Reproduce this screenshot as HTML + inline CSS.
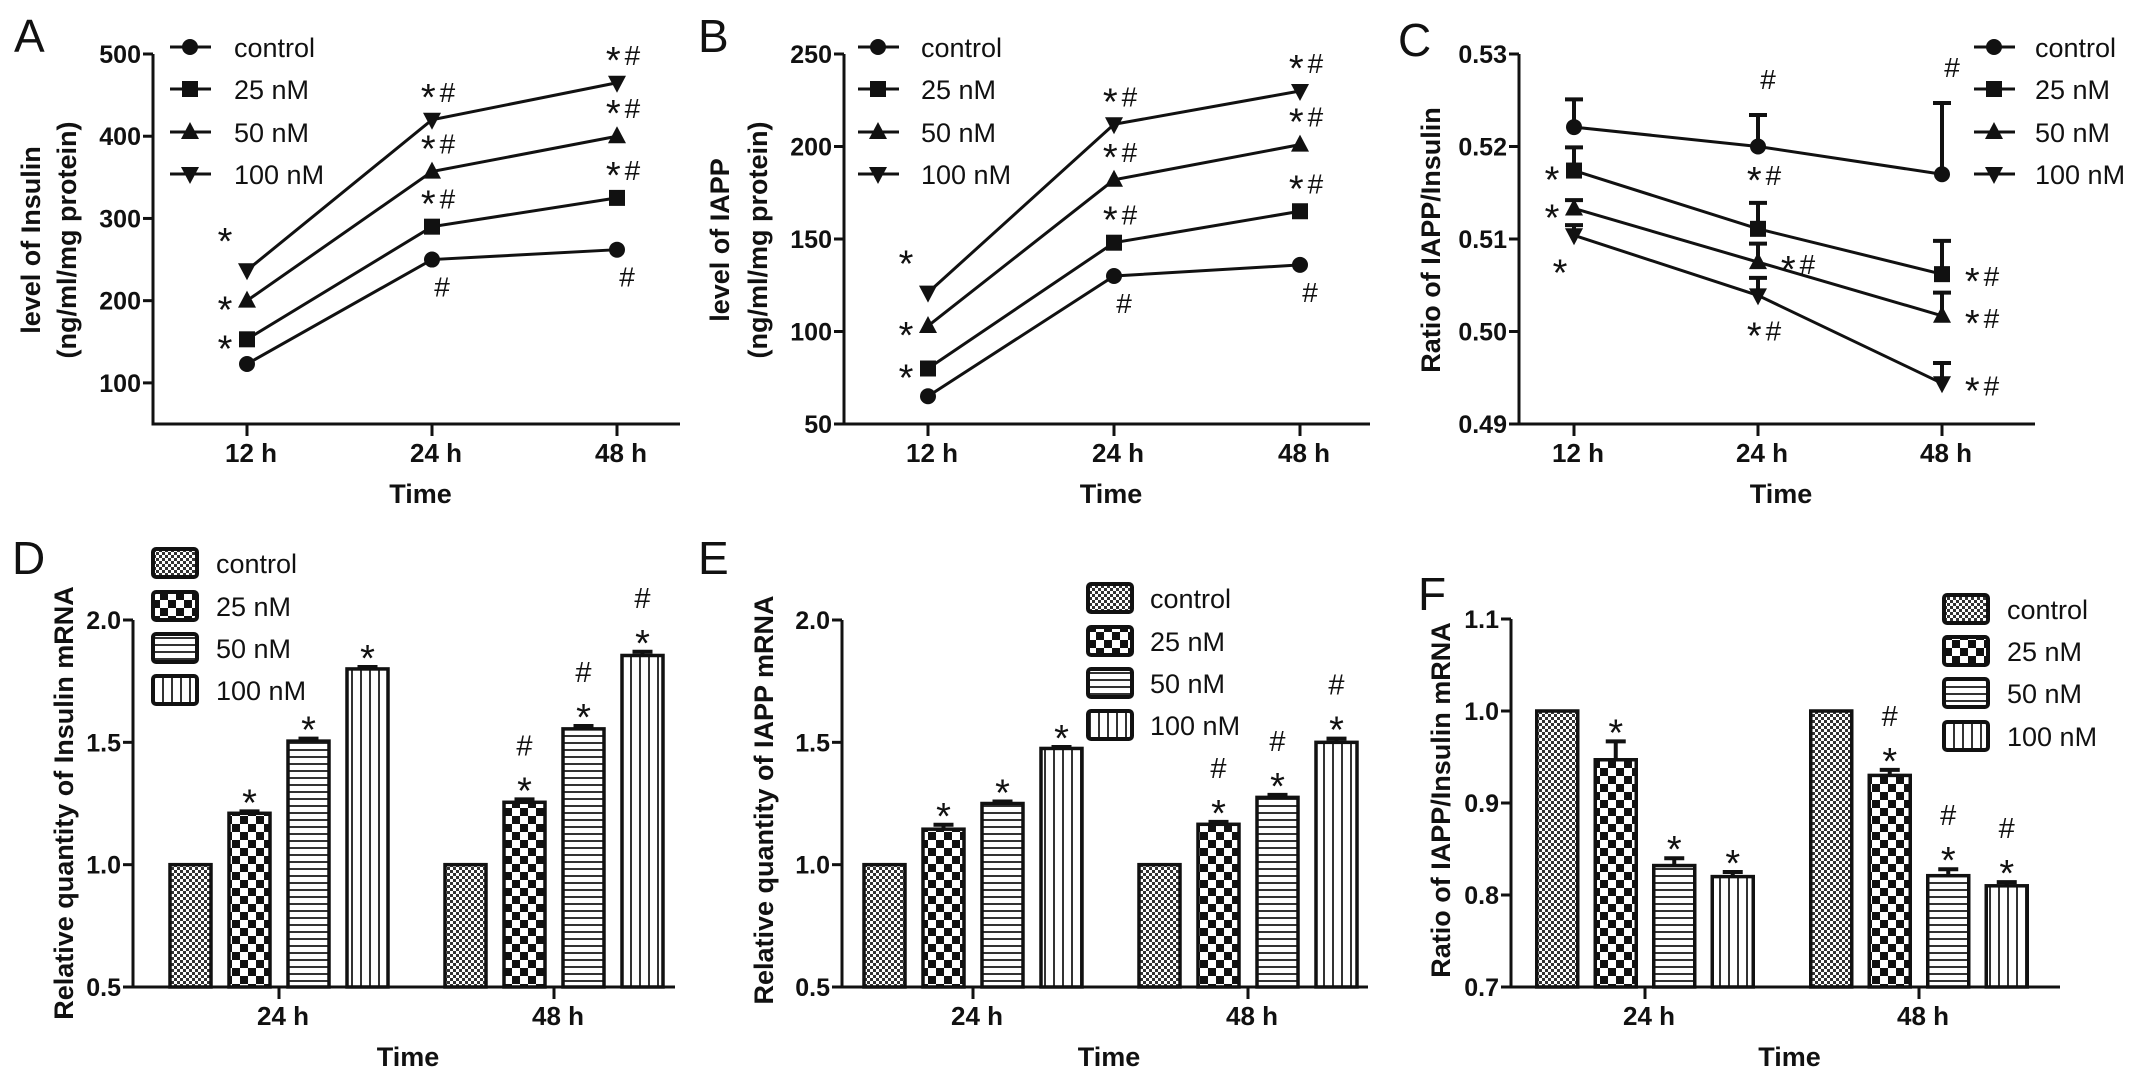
<!DOCTYPE html>
<html><head><meta charset="utf-8"><style>
html,body{margin:0;padding:0;background:#fff;}
svg{display:block;font-family:"Liberation Sans",Arial,sans-serif;}
</style></head><body>
<svg id="fig" width="2150" height="1088" viewBox="0 0 2150 1088" xmlns="http://www.w3.org/2000/svg">
<defs>
<pattern id="pCtrl" width="6" height="6" patternUnits="userSpaceOnUse"><rect width="6" height="6" fill="#fff"/><rect width="3" height="3" fill="#333"/><rect x="3" y="3" width="3" height="3" fill="#333"/></pattern>
<pattern id="p25" width="16" height="16" patternUnits="userSpaceOnUse"><rect width="16" height="16" fill="#fff"/><rect width="8" height="8" fill="#111"/><rect x="8" y="8" width="8" height="8" fill="#111"/></pattern>
<pattern id="p50" width="8" height="7" patternUnits="userSpaceOnUse"><rect width="8" height="7" fill="#fff"/><rect y="0" width="8" height="2" fill="#333"/></pattern>
<pattern id="p100" width="9" height="8" patternUnits="userSpaceOnUse"><rect width="9" height="8" fill="#fff"/><rect x="0" width="2" height="8" fill="#333"/></pattern>
</defs>
</svg>
<script>
// ---------- data ----------
const seriesNames = ["control","25 nM","50 nM","100 nM"];
const timeLine = ["12 h","24 h","48 h"];
const timeBar = ["24 h","48 h"];
// Panel A: insulin level
const aControl = [123,250,262];
const a25 = [153,290,325];
const a50 = [200,357,400];
const a100 = [237,420,465];
const aTicks = [100,200,300,400,500];
// Panel B: IAPP level
const bControl = [65,130,136];
const b25 = [80,148,165];
const b50 = [103,182,201];
const b100 = [121,212,230];
const bTicks = [50,100,150,200,250];
// Panel C: ratio IAPP/insulin
const cControl = [0.5221,0.5200,0.5170];
const c25 = [0.5174,0.5111,0.5062];
const c50 = [0.5133,0.5075,0.5017];
const c100 = [0.5104,0.5039,0.4944];
const cControlErr = [0.0030,0.0034,0.0077];
const c25Err = [0.0025,0.0028,0.0036];
const c50Err = [0.0009,0.0020,0.0025];
const c100Err = [0.0011,0.0019,0.0022];
const cTicks = [0.49,0.50,0.51,0.52,0.53];
// Panel D: insulin mRNA
const d24 = [1.0,1.21,1.505,1.80];
const d48 = [1.0,1.255,1.555,1.855];
const d24Err = [0,0.008,0.01,0.008];
const d48Err = [0,0.012,0.012,0.015];
const dTicks = [0.5,1.0,1.5,2.0];
// Panel E: IAPP mRNA
const e24 = [1.0,1.145,1.25,1.475];
const e48 = [1.0,1.165,1.275,1.50];
const e24Err = [0,0.018,0.008,0.006];
const e48Err = [0,0.01,0.01,0.015];
const eTicks = [0.5,1.0,1.5,2.0];
// Panel F: ratio mRNA
const f24 = [1.0,0.947,0.832,0.820];
const f48 = [1.0,0.930,0.821,0.810];
const f24Err = [0,0.020,0.008,0.005];
const f48Err = [0,0.006,0.007,0.004];
const fTicks = [0.7,0.8,0.9,1.0,1.1];

const NS = "http://www.w3.org/2000/svg";
const svg = document.getElementById('fig');
function mk(tag, attrs, parent){
  const e = document.createElementNS(NS, tag);
  for (const k in attrs) e.setAttribute(k, attrs[k]);
  (parent||svg).appendChild(e);
  return e;
}
function txt(str, x, y, size, weight, anchor, parent, rot){
  const t = mk('text', {x:x, y:y, 'font-size':size, 'font-weight':weight||'normal', 'text-anchor':anchor||'start', fill:'#111'}, parent);
  if (rot) t.setAttribute('transform', 'rotate(-90 '+x+' '+y+')');
  t.textContent = str;
  return t;
}
function sig(str, x, y, anchor, parent){
  // star larger than hash, like the reference
  const t = mk('text', {x:x, y:y, 'text-anchor':anchor, fill:'#111'}, parent);
  for (const ch of str){
    const s = mk('tspan', {'font-size': ch==='*' ? 38 : 28, dy: ch==='*' ? 8 : -8}, t);
    if (ch==='#') s.setAttribute('dx', 4);
    s.textContent = ch;
  }
  return t;
}
function letter(s, x, y){
  const t = txt(s, x, y, 46, 'normal', 'start');
  
  
}
function marker(g, type, x, y){
  let m;
  if (type===0) m = mk('circle', {cx:x, cy:y, r:8, fill:'#111'}, g);
  else if (type===1) m = mk('rect', {x:x-8, y:y-8, width:16, height:16, fill:'#111'}, g);
  else if (type===2) m = mk('polygon', {points:(x)+','+(y-10)+' '+(x-9)+','+(y+7)+' '+(x+9)+','+(y+7), fill:'#111'}, g);
  else m = mk('polygon', {points:(x)+','+(y+10)+' '+(x-9)+','+(y-7)+' '+(x+9)+','+(y-7), fill:'#111'}, g);
  
  
}
function axes(g, cfg){
  const ax = mk('path', {d:'M'+cfg.ax+','+cfg.top+' L'+cfg.ax+','+cfg.bot+' L'+cfg.xEnd+','+cfg.bot, stroke:'#111','stroke-width':3, fill:'none'}, g);
  
  
  cfg.ticks.forEach(v=>{
    const y = cfg.sy(v);
    mk('line', {x1:cfg.ax-10, x2:cfg.ax, y1:y, y2:y, stroke:'#111','stroke-width':3}, g);
    const t = txt(cfg.fmt(v), cfg.ax-12, y+9, 25, 'bold', 'end', g);
    
    
  });
  cfg.xs.forEach((x,i)=>{
    mk('line', {x1:x, x2:x, y1:cfg.bot, y2:cfg.bot+12, stroke:'#111','stroke-width':3}, g);
    const t = txt(cfg.xl[i], x+4, cfg.bot+38, 26, 'bold', 'middle', g);
    
    
  });
  const tt = txt('Time', (cfg.ax+cfg.xEnd)/2+4, cfg.bot+79, 27, 'bold', 'middle', g);
  
  
  cfg.ylab.forEach((s,i)=>{
    const t = txt(s, cfg.ylx[i], cfg.lcy, 27, 'bold', 'middle', g, true);
    
    
  });
}
function lineLegend(g, x, tx){
  const rows = [47,89,132,174];
  seriesNames.forEach((n,i)=>{
    const lg = mk('g', {}, g);
    
    
    mk('line', {x1:x, x2:x+41, y1:rows[i], y2:rows[i], stroke:'#111','stroke-width':3}, lg);
    marker(lg, i, x+20, rows[i]);
    txt(n, tx, rows[i]+10, 27, 'normal', 'start', lg);
  });
}
function linePanel(name, cfg, series, errs, anns){
  const g = mk('g', {});
  
  
  axes(g, cfg);
  series.forEach((vals,si)=>{
    const pts = vals.map((v,i)=>cfg.xs[i]+','+cfg.sy(v)).join(' ');
    const pl = mk('polyline', {points:pts, fill:'none', stroke:'#111','stroke-width':3}, g);
    
    
    vals.forEach((v,i)=>{
      const x = cfg.xs[i], y = cfg.sy(v);
      if (errs){
        const yt = cfg.sy(v+errs[si][i]);
        mk('line', {x1:x, x2:x, y1:y, y2:yt, stroke:'#111','stroke-width':4}, g);
        mk('line', {x1:x-9, x2:x+9, y1:yt, y2:yt, stroke:'#111','stroke-width':4}, g);
      }
      marker(g, si, x, y);
      const a = anns[si][i];
      if (a){
        const yt = errs ? cfg.sy(v+errs[si][i]) : y;
        let ax=x, ay=y;
        if (a[1]==='L'){ ax=x-22; ay=y+14; }
        else if (a[1]==='U'){ ax=x-22; ay=y-24; }
        else if (a[1]==='A'){ ax=x+6; ay=yt-18; }
        else if (a[1]==='B'){ ax=x+6; ay=y+45; }
        else if (a[1]==='R'){ ax=x+40; ay=y+12; }
        else if (a[1]==='D'){ ax=x-14; ay=y+42; }
        const t = sig(a[0], ax, ay, 'middle', g);
        
        
      }
    });
  });
  lineLegend(g, cfg.legX, cfg.legTX);
}
const fills = ['url(#pCtrl)','url(#p25)','url(#p50)','url(#p100)'];
function barLegend(g, x, tx, rows, ctrlLabel){
  seriesNames.forEach((n,i)=>{
    const lg = mk('g', {}, g);
    
    
    mk('rect', {x:x, y:rows[i]-14, width:44, height:28, fill:fills[i], stroke:'#111','stroke-width':4, rx:3}, lg);
    txt(i===0 && ctrlLabel ? ctrlLabel : n, tx, rows[i]+10, 27, 'normal', 'start', lg);
  });
}
function barPanel(name, cfg, groups, errs, anns){
  const g = mk('g', {});
  
  
  const offs = [-1.5,-0.5,0.5,1.5];
  groups.forEach((vals,gi)=>{
    vals.forEach((v,si)=>{
      const cx = cfg.xs[gi] + offs[si]*cfg.step;
      const y = cfg.sy(v);
      const r = mk('rect', {x:cx-cfg.bw/2, y:y, width:cfg.bw, height:cfg.bot-y, fill:fills[si], stroke:'#111','stroke-width':3.5}, g);
      
      
      const e = errs[gi][si];
      let top = y;
      if (e>0){
        top = cfg.sy(v+e);
        mk('line', {x1:cx, x2:cx, y1:y, y2:top, stroke:'#111','stroke-width':4}, g);
        mk('line', {x1:cx-10, x2:cx+10, y1:top, y2:top, stroke:'#111','stroke-width':4}, g);
      }
      const a = anns[gi][si];
      if (a){
        const t1 = txt('*', cx, top+4, 38, 'normal', 'middle', g);
        
        
        if (a==='*#'){
          const t2 = txt('#', cx, top-44, 29, 'normal', 'middle', g);
          
          
        }
      }
    });
  });
  axes(g, cfg);
  barLegend(g, cfg.legX, cfg.legTX, cfg.legRows, cfg.ctrlLabel);
}
function scale(d0,d1,p0,p1){ return v => p0 + (v-d0)*(p1-p0)/(d1-d0); }

// ---------- panels ----------
letter('A', 14, 52); letter('B', 698, 52); letter('C', 1398, 56);
letter('D', 12, 574); letter('E', 698, 574); letter('F', 1418, 610);

const fmtInt = v => String(v);
const fmt2 = v => v.toFixed(2);
const fmt1 = v => v.toFixed(1);

linePanel('panel-a-insulin-level', {ax:153, xEnd:680, top:54, bot:424, sy:scale(50,500,424,54), ticks:aTicks, fmt:fmtInt,
  xs:[247,432,617], xl:timeLine, ylab:['level of Insulin','(ng/ml/mg protein)'], ylx:[40,76], lcy:240, legX:170, legTX:234},
  [aControl,a25,a50,a100], null,
  [[null,['#','B'],['#','B']],[['*','L'],['*#','A'],['*#','A']],[['*','L'],['*#','A'],['*#','A']],[['*','U'],['*#','A'],['*#','A']]]);

linePanel('panel-b-iapp-level', {ax:844, xEnd:1370, top:54, bot:424, sy:scale(50,250,424,54), ticks:bTicks, fmt:fmtInt,
  xs:[928,1114,1300], xl:timeLine, ylab:['level of IAPP','(ng/ml/mg protein)'], ylx:[729,767], lcy:240, legX:858, legTX:921},
  [bControl,b25,b50,b100], null,
  [[null,['#','B'],['#','B']],[['*','L'],['*#','A'],['*#','A']],[['*','L'],['*#','A'],['*#','A']],[['*','U'],['*#','A'],['*#','A']]]);

linePanel('panel-c-ratio', {ax:1519, xEnd:2035, top:54, bot:424, sy:scale(0.49,0.53,424,54), ticks:cTicks, fmt:fmt2,
  xs:[1574,1758,1942], xl:timeLine, ylab:['Ratio of IAPP/Insulin'], ylx:[1440], lcy:240, legX:1974, legTX:2035},
  [cControl,c25,c50,c100], [cControlErr,c25Err,c50Err,c100Err],
  [[null,['#','A'],['#','A']],[['*','L'],['*#','A'],['*#','R']],[['*','L'],['*#','R'],['*#','R']],[['*','D'],['*#','B'],['*#','R']]]);

barPanel('panel-d-insulin-mrna', {ax:133, xEnd:675, top:620, bot:987, sy:scale(0.5,2.0,987,620), ticks:dTicks, fmt:fmt1,
  xs:[279,554], xl:timeBar, step:59, bw:41, ylab:['Relative quantity of Insulin mRNA'], ylx:[73], lcy:803,
  legX:153, legTX:216, legRows:[563,606,648,690]},
  [d24,d48], [d24Err,d48Err], [[null,'*','*','*'],[null,'*#','*#','*#']]);

barPanel('panel-e-iapp-mrna', {ax:842, xEnd:1368, top:620, bot:987, sy:scale(0.5,2.0,987,620), ticks:eTicks, fmt:fmt1,
  xs:[973,1248], xl:timeBar, step:59, bw:41, ylab:['Relative quantity of IAPP mRNA'], ylx:[773], lcy:800,
  legX:1088, legTX:1150, legRows:[598,641,683,725]},
  [e24,e48], [e24Err,e48Err], [[null,'*','*','*'],[null,'*#','*#','*#']]);

barPanel('panel-f-ratio-mrna', {ax:1511, xEnd:2060, top:619, bot:987, sy:scale(0.7,1.1,987,619), ticks:fTicks, fmt:fmt1,
  xs:[1645,1919], xl:timeBar, step:58.5, bw:41, ylab:['Ratio of IAPP/Insulin mRNA'], ylx:[1450], lcy:800,
  legX:1944, legTX:2007, legRows:[609,651,693,736], ctrlLabel:' control'},
  [f24,f48], [f24Err,f48Err], [[null,'*','*','*'],[null,'*#','*#','*#']]);
</script>
</body></html>
